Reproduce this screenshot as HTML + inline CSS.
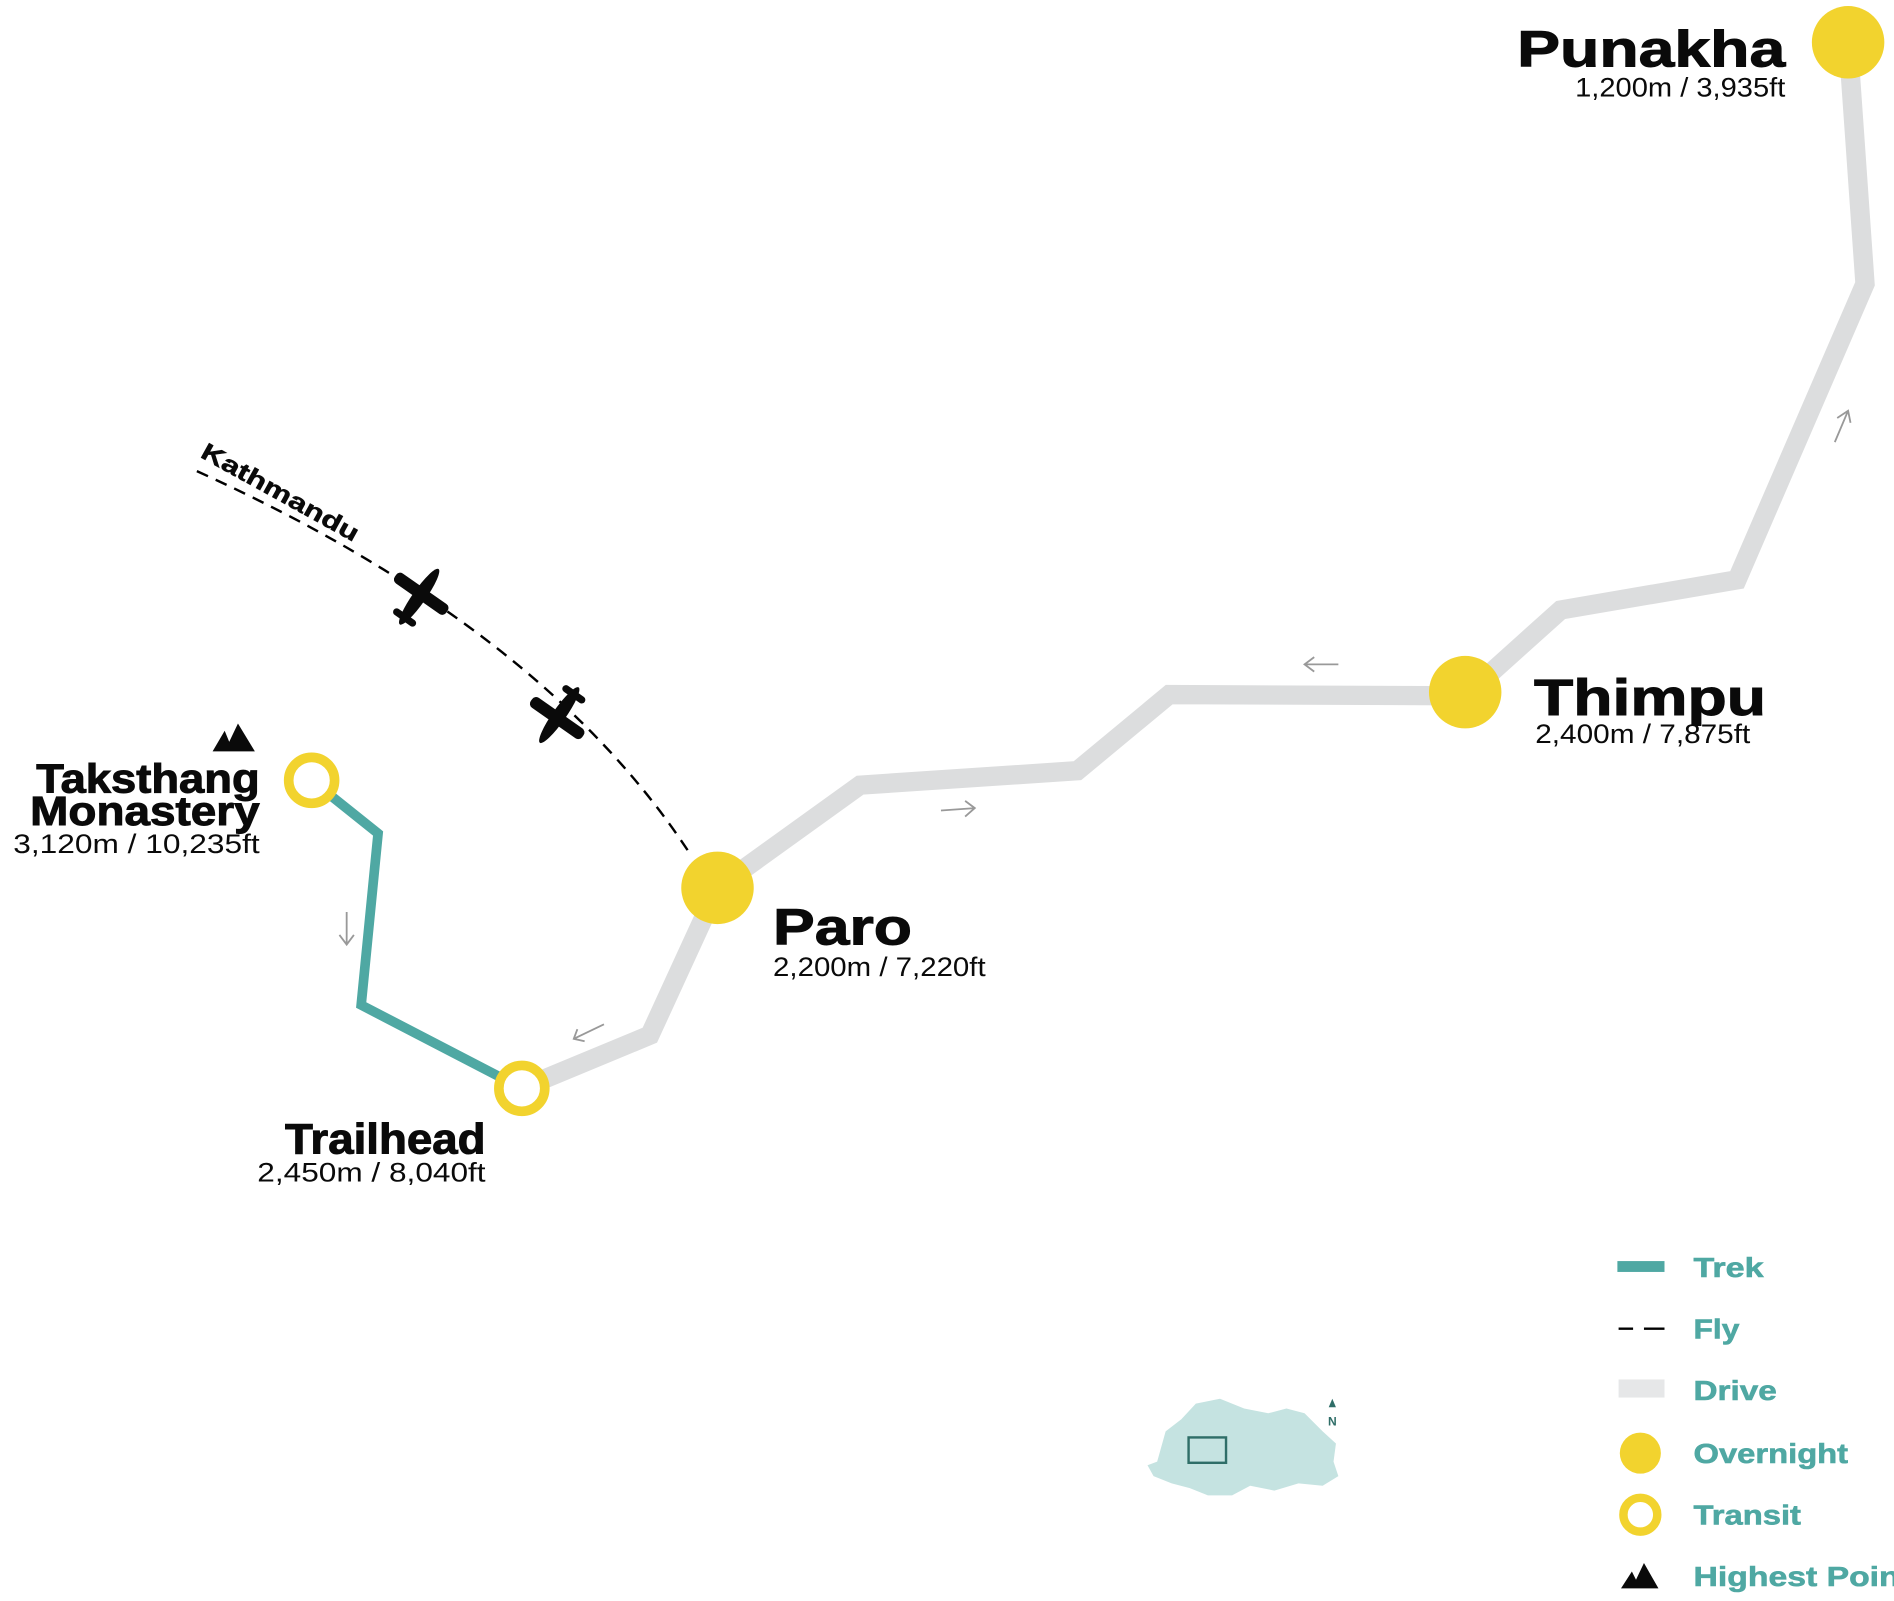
<!DOCTYPE html>
<html><head><meta charset="utf-8"><style>html,body{margin:0;padding:0;background:#fff}svg{display:block}</style></head>
<body>
<svg width="1894" height="1601" viewBox="0 0 1568 1325.4" xmlns="http://www.w3.org/2000/svg" font-family="Liberation Sans, sans-serif">
<rect width="1568" height="1326" fill="#fff"/>
<polyline points="432,901 538,857 594,735 712,650 892,638 968,575 1213,576 1292,505 1438,480 1544,235 1530,35" fill="none" stroke="#dcddde" stroke-width="16" stroke-linejoin="miter"/>
<polyline points="258,646 313,690 299,832 432,901" fill="none" stroke="#4fa8a3" stroke-width="8"/>
<path d="M163,390 Q450,520 572,708" fill="none" stroke="#000" stroke-width="2" stroke-dasharray="10,7"/>
<g transform="translate(347,494) rotate(35)" fill="#0a0a0a">
<ellipse cx="0" cy="0" rx="5.5" ry="28"/><rect x="-26" y="-8" width="52" height="10" rx="4"/><rect x="-11" y="18" width="22" height="6" rx="3"/>
</g>
<g transform="translate(463,592) rotate(215)" fill="#0a0a0a">
<ellipse cx="0" cy="0" rx="5.5" ry="28"/><rect x="-26" y="-8" width="52" height="10" rx="4"/><rect x="-11" y="18" width="22" height="6" rx="3"/>
</g>
<g stroke="#999" stroke-width="1.5" fill="none">
<path d="M779,671 L807,669 M799,663 L807,669 L799,676"/>
<path d="M1108,550 L1080,550 M1088,544 L1080,550 L1088,556"/>
<path d="M1519,366 L1530,340 M1521,346 L1530,340 L1532,350"/>
<path d="M287,755 L287,782 M281,774 L287,782 L293,774"/>
<path d="M500,848 L475,860 M478,852 L475,860 L484,862"/>
</g>
<circle cx="594" cy="735" r="30" fill="#f2d32e"/>
<circle cx="1213" cy="573" r="30" fill="#f2d32e"/>
<circle cx="1530" cy="35" r="30" fill="#f2d32e"/>
<circle cx="258" cy="646" r="19" fill="#fff" stroke="#f2d32e" stroke-width="8"/>
<circle cx="432" cy="901" r="19" fill="#fff" stroke="#f2d32e" stroke-width="8"/>
<path d="M176,622 L186,605 L193,622Z M186,622 L197,599 L211,622 L196,622Z" fill="#0a0a0a"/>
<g font-weight="bold" fill="#0a0a0a" stroke="#0a0a0a" stroke-width="0.8">
<text x="1256" y="55" font-size="42" textLength="222" lengthAdjust="spacingAndGlyphs">Punakha</text>
<text x="1270" y="592" font-size="42" textLength="192" lengthAdjust="spacingAndGlyphs">Thimpu</text>
<text x="640" y="782" font-size="42" textLength="115" lengthAdjust="spacingAndGlyphs">Paro</text>
<text x="236" y="955" font-size="35" textLength="166" lengthAdjust="spacingAndGlyphs">Trailhead</text>
<text x="30" y="656" font-size="34" textLength="185" lengthAdjust="spacingAndGlyphs">Taksthang</text>
<text x="25" y="683" font-size="34" textLength="190" lengthAdjust="spacingAndGlyphs">Monastery</text>
<text x="165" y="378" font-size="20" stroke-width="0.4" transform="rotate(29 165 378)" textLength="146" lengthAdjust="spacingAndGlyphs">Kathmandu</text>
</g>
<g font-size="22" fill="#0a0a0a">
<text x="1304" y="80" textLength="174" lengthAdjust="spacingAndGlyphs">1,200m / 3,935ft</text>
<text x="1271" y="615" textLength="178" lengthAdjust="spacingAndGlyphs">2,400m / 7,875ft</text>
<text x="640" y="808" textLength="176" lengthAdjust="spacingAndGlyphs">2,200m / 7,220ft</text>
<text x="213" y="978" textLength="189" lengthAdjust="spacingAndGlyphs">2,450m / 8,040ft</text>
<text x="11" y="706" textLength="204" lengthAdjust="spacingAndGlyphs">3,120m / 10,235ft</text>
</g>
<rect x="1339" y="1044" width="39" height="9" fill="#4fa8a3"/>
<path d="M1340,1100 H1352 M1361,1100 H1378" stroke="#000" stroke-width="2"/>
<rect x="1340" y="1142" width="38" height="15" fill="#e6e7e8"/>
<circle cx="1358" cy="1203" r="17" fill="#f2d32e"/>
<circle cx="1358" cy="1254" r="14" fill="#fff" stroke="#f2d32e" stroke-width="7"/>
<path d="M1342,1315 L1351,1301 L1358,1315Z M1351,1315 L1361,1294 L1373,1315 L1360,1315Z" fill="#0a0a0a"/>
<g font-size="23" font-weight="bold" fill="#4fa8a3" stroke="#4fa8a3" stroke-width="0.5">
<text x="1402" y="1057" textLength="58" lengthAdjust="spacingAndGlyphs">Trek</text>
<text x="1402" y="1108" textLength="38" lengthAdjust="spacingAndGlyphs">Fly</text>
<text x="1402" y="1159" textLength="69" lengthAdjust="spacingAndGlyphs">Drive</text>
<text x="1402" y="1211" textLength="128" lengthAdjust="spacingAndGlyphs">Overnight</text>
<text x="1402" y="1262" textLength="89" lengthAdjust="spacingAndGlyphs">Transit</text>
<text x="1402" y="1313" textLength="180" lengthAdjust="spacingAndGlyphs">Highest Point</text>
</g>
<path d="M958,1210 L965,1185 L978,1175 L990,1162 L1010,1158 L1030,1166 L1050,1170 L1065,1166 L1080,1170 L1095,1185 L1106,1195 L1104,1210 L1108,1222 L1095,1230 L1075,1228 L1055,1234 L1035,1230 L1020,1238 L1000,1238 L985,1232 L970,1228 L955,1222 L950,1213Z" fill="#c5e3e1"/>
<rect x="984" y="1190" width="31" height="21" fill="none" stroke="#2f6e68" stroke-width="2"/>
<path d="M1100,1165 L1103,1158 L1106,1165Z" fill="#2f6e68"/>
<text x="1103" y="1180" font-size="10" font-weight="bold" fill="#2f6e68" text-anchor="middle">N</text>
</svg>
</body></html>
